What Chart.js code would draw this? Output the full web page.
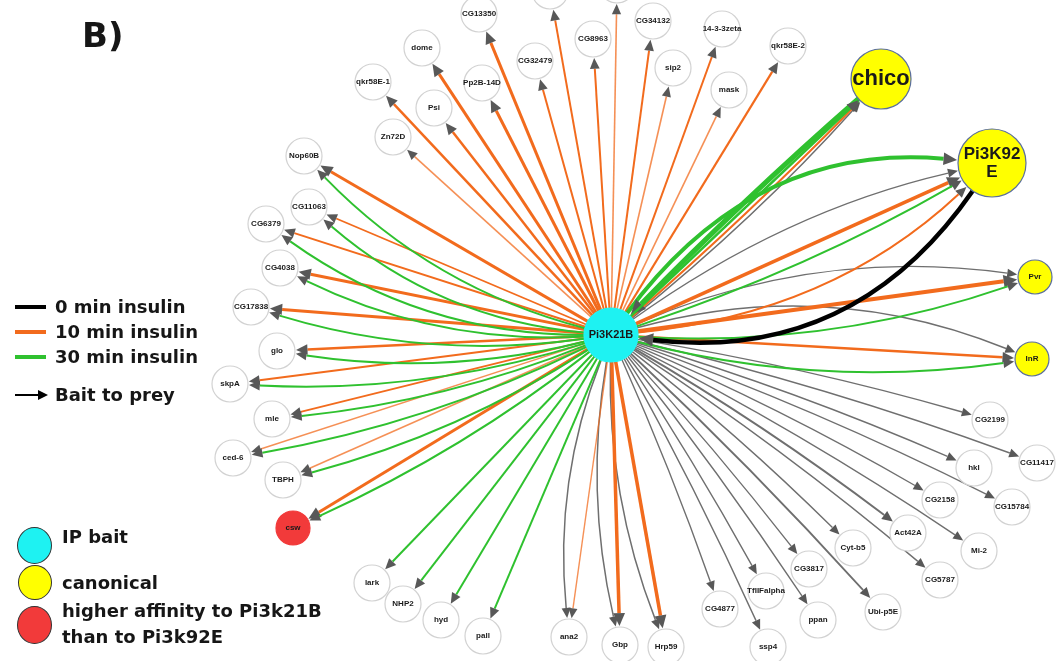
<!DOCTYPE html>
<html>
<head>
<meta charset="utf-8">
<script src="https://cdn.jsdelivr.net/npm/chart.js@4.4.0/dist/chart.umd.min.js"></script>
<style>
body { margin: 0; background: #fff; }
#wrap { position: relative; width: 1062px; height: 661px; }
#net { position: absolute; left: 0; top: 0; }
.lg { position: absolute; font-family: "DejaVu Sans", sans-serif; font-weight: bold; font-size: 18px; color: #161616; white-space: nowrap; line-height: 20px; }
.ln { position: absolute; left: 15px; width: 31px; height: 4px; }
.dot { position: absolute; border: 1.5px solid #333; border-radius: 50%; }
</style>
</head>
<body>
<div id="wrap">
  <canvas id="net" width="1062" height="661"></canvas>

  <div class="lg" style="left:82px;top:17px;font-size:34px;line-height:36px;">B)</div>

  <div class="ln" style="top:305px;background:#000;"></div>
  <div class="lg" style="left:55px;top:297px;">0 min insulin</div>
  <div class="ln" style="top:330px;background:#f26b1d;"></div>
  <div class="lg" style="left:55px;top:322px;">10 min insulin</div>
  <div class="ln" style="top:355px;background:#2fc12f;"></div>
  <div class="lg" style="left:55px;top:347px;">30 min insulin</div>
  <div class="ln" style="top:394px;height:2px;width:24px;background:#000;"></div>
  <div style="position:absolute;left:38px;top:390px;width:0;height:0;border-top:5px solid transparent;border-bottom:5px solid transparent;border-left:10px solid #000;"></div>
  <div class="lg" style="left:55px;top:385px;">Bait to prey</div>

  <div class="dot" style="left:17px;top:527px;width:33px;height:35px;background:#1ef2f2;"></div>
  <div class="lg" style="left:62px;top:527px;">IP bait</div>
  <div class="dot" style="left:18px;top:565px;width:32px;height:33px;background:#ffff00;"></div>
  <div class="lg" style="left:62px;top:573px;">canonical</div>
  <div class="dot" style="left:17px;top:606px;width:33px;height:36px;background:#f23a3a;"></div>
  <div class="lg" style="left:62px;top:601px;">higher affinity to Pi3k21B</div>
  <div class="lg" style="left:62px;top:627px;">than to Pi3k92E</div>
</div>

<script>
// network layout (x to the right, y downward)
var nodeNames = ['Pi3K21B', 'chico', 'Pi3K92E', 'Pvr', 'InR', 'csw',
    '_top1', '_top2', 'CG13350', 'CG34132', '14-3-3zeta', 'qkr58E-2', 'dome', 'CG8963',
    'CG32479', 'sip2', 'mask', 'qkr58E-1', 'Pp2B-14D', 'Psi', 'Zn72D',
    'Nop60B', 'CG11063', 'CG6379', 'CG4038', 'CG17838', 'glo', 'skpA', 'mle', 'ced-6', 'TBPH',
    'lark', 'NHP2', 'hyd', 'pall', 'ana2', 'Gbp', 'Hrp59',
    'CG4877', 'ssp4', 'TfIIFalpha', 'ppan', 'CG3817', 'Ubi-p5E', 'Cyt-b5', 'Act42A',
    'CG5787', 'Mi-2', 'CG2158', 'CG15784', 'hkl', 'CG11417', 'CG2199'];
var nodeX = [611, 881, 992, 1035, 1032, 293,
    550, 617, 479, 653, 722, 788, 422, 593,
    535, 673, 729, 373, 482, 434, 393,
    304, 309, 266, 280, 251, 277, 230, 272, 233, 283,
    372, 403, 441, 483, 569, 620, 666,
    720, 768, 766, 818, 809, 883, 853, 908,
    940, 979, 940, 1012, 974, 1037, 990];
var nodeY = [335, 79, 163, 277, 359, 528,
    -9, -15, 14, 21, 29, 46, 48, 39,
    61, 68, 90, 82, 83, 108, 137,
    156, 207, 224, 268, 307, 351, 384, 419, 458, 480,
    583, 604, 620, 636, 637, 645, 647,
    609, 647, 591, 620, 569, 612, 548, 533,
    580, 551, 500, 507, 468, 463, 420];
var nodeKind = ['bait', 'canonical', 'canonical', 'canonical', 'canonical', 'affinity'];
while (nodeKind.length < nodeNames.length) nodeKind.push('prey');

// edges: [from, to, minutes of insulin (-1 = grey), weight, bend]
var B = 'Pi3K21B';
var edges = [
    [B, '_top1', 10, 2, 0], [B, '_top2', 10, 1.6, 0], [B, 'CG13350', 10, 3, 0],
    [B, 'CG34132', 10, 2, 0], [B, '14-3-3zeta', 10, 2, 0], [B, 'qkr58E-2', 10, 2.2, 0],
    [B, 'dome', 10, 3, 0], [B, 'CG8963', 10, 2, 0], [B, 'CG32479', 10, 2, 0],
    [B, 'sip2', 10, 1.6, 0], [B, 'mask', 10, 1.6, 0], [B, 'qkr58E-1', 10, 2.5, 0],
    [B, 'Pp2B-14D', 10, 3, 0], [B, 'Psi', 10, 2.5, 0], [B, 'Zn72D', 10, 1.6, 0],

    [B, 'Nop60B', 10, 3, 0], [B, 'Nop60B', 30, 2, 0.14],
    [B, 'CG11063', 10, 1.8, 0], [B, 'CG11063', 30, 2, 0.16],
    [B, 'CG6379', 10, 2, 0], [B, 'CG6379', 30, 2, 0.16],
    [B, 'CG4038', 10, 3, 0], [B, 'CG4038', 30, 2, 0.13],
    [B, 'CG17838', 10, 3, 0], [B, 'CG17838', 30, 2, 0.11],
    [B, 'glo', 10, 2.5, 0], [B, 'glo', 30, 2, 0.1],
    [B, 'skpA', 10, 2, 0], [B, 'skpA', 30, 2, 0.09],
    [B, 'mle', 10, 1.8, 0], [B, 'mle', 30, 2, 0.07],
    [B, 'ced-6', 10, 1.5, 0], [B, 'ced-6', 30, 2, 0.07],
    [B, 'TBPH', 10, 1.6, 0], [B, 'TBPH', 30, 2, 0.08],
    [B, 'csw', 10, 3, 0], [B, 'csw', 30, 2, 0.06],
    [B, 'lark', 30, 2, 0], [B, 'NHP2', 30, 2, 0], [B, 'hyd', 30, 2, 0], [B, 'pall', 30, 2, 0],

    [B, 'ana2', -1, 1.5, -0.12], [B, 'ana2', 10, 1.4, 0],
    [B, 'Gbp', -1, 1.5, -0.1], [B, 'Gbp', 10, 3.5, 0],
    [B, 'Hrp59', -1, 1.5, -0.1], [B, 'Hrp59', 10, 3.5, 0],
    [B, 'CG4877', -1, 1.4, 0.02], [B, 'ssp4', -1, 1.4, 0.02], [B, 'TfIIFalpha', -1, 1.4, 0.02],
    [B, 'ppan', -1, 1.4, 0.02], [B, 'CG3817', -1, 1.4, 0.02], [B, 'Ubi-p5E', -1, 1.8, 0.02],
    [B, 'Cyt-b5', -1, 1.4, 0.03], [B, 'Act42A', -1, 2, 0.03], [B, 'CG5787', -1, 1.4, 0.03],
    [B, 'Mi-2', -1, 1.4, 0.03], [B, 'CG2158', -1, 1.4, 0.03], [B, 'CG15784', -1, 1.4, 0.03],
    [B, 'hkl', -1, 1.4, 0.03], [B, 'CG11417', -1, 1.4, 0.03], [B, 'CG2199', -1, 1.4, 0.03],

    [B, 'InR', -1, 1.4, 0.17], [B, 'InR', 10, 2.5, 0], [B, 'InR', 30, 2, -0.1],
    [B, 'Pvr', -1, 1.4, 0.14], [B, 'Pvr', 10, 4, 0], [B, 'Pvr', 30, 2, -0.1],

    [B, 'Pi3K92E', 30, 4, 0.28], [B, 'Pi3K92E', -1, 1.4, 0.1], [B, 'Pi3K92E', 10, 3.5, 0],
    [B, 'Pi3K92E', 30, 2, -0.05], [B, 'Pi3K92E', 10, 2, -0.17], ['Pi3K92E', B, 0, 4.5, 0.3],

    ['chico', B, 30, 5, -0.02], [B, 'chico', 30, 2.5, 0], [B, 'chico', 10, 2, -0.02], [B, 'chico', -1, 1.5, -0.04]
];

var timeColor = { '-1': '#6f6f6f', '0': '#000000', '10': '#f26b1d', '30': '#2fc12f' };
var drawOrder = { '-1': 0, '10': 1, '30': 2, '0': 3 };
var kindFill = { bait: '#1ef2f2', canonical: '#ffff00', affinity: '#f23a3a', prey: '#ffffff' };
var kindBorder = { bait: '#1ef2f2', canonical: '#5b6f9c', affinity: '#f23a3a', prey: '#d2d2d2' };
var bigNodes = { 'Pi3K21B': 27, 'chico': 30, 'Pi3K92E': 34, 'Pvr': 17, 'InR': 17, 'csw': 17 };

function nodeRadius(i) {
    return bigNodes[nodeNames[i]] || 18;
}

var edgePlugin = {
    id: 'edges',
    beforeDatasetsDraw: function (chart) {
        var ctx = chart.ctx, sx = chart.scales.x, sy = chart.scales.y;
        function pos(name) {
            var i = nodeNames.indexOf(name);
            return { x: sx.getPixelForValue(nodeX[i]), y: sy.getPixelForValue(nodeY[i]), r: nodeRadius(i) };
        }
        var list = edges.slice().sort(function (a, b) { return drawOrder[a[2]] - drawOrder[b[2]]; });
        ctx.save();
        list.forEach(function (e) {
            var s = pos(e[0]), t = pos(e[1]);
            var dx = t.x - s.x, dy = t.y - s.y;
            // control point, bent to the left of travel direction
            var cx = (s.x + t.x) / 2 + e[4] * dy, cy = (s.y + t.y) / 2 - e[4] * dx;
            var a1 = Math.atan2(cy - s.y, cx - s.x), a2 = Math.atan2(cy - t.y, cx - t.x);
            var x1 = s.x + s.r * Math.cos(a1), y1 = s.y + s.r * Math.sin(a1);
            var head = 8 + e[3] * 1.4;
            var x2 = t.x + (t.r + 1) * Math.cos(a2), y2 = t.y + (t.r + 1) * Math.sin(a2);
            var xb = x2 + head * Math.cos(a2), yb = y2 + head * Math.sin(a2);
            ctx.strokeStyle = timeColor[e[2]];
            ctx.lineWidth = e[3];
            ctx.globalAlpha = e[3] < 1.7 && e[2] == 10 ? 0.75 : 1;
            ctx.beginPath();
            ctx.moveTo(x1, y1);
            ctx.quadraticCurveTo(cx, cy, xb, yb);
            ctx.stroke();
            ctx.globalAlpha = 1;
            // arrow head
            var w = 3.5 + e[3] * 0.7;
            ctx.fillStyle = '#585858';
            ctx.beginPath();
            ctx.moveTo(x2, y2);
            ctx.lineTo(xb - w * Math.sin(a2), yb + w * Math.cos(a2));
            ctx.lineTo(xb + w * Math.sin(a2), yb - w * Math.cos(a2));
            ctx.closePath();
            ctx.fill();
        });
        ctx.restore();
    },
    afterDatasetsDraw: function (chart) {
        var ctx = chart.ctx, sx = chart.scales.x, sy = chart.scales.y;
        ctx.save();
        ctx.textAlign = 'center';
        ctx.textBaseline = 'middle';
        ctx.fillStyle = '#1a1a1a';
        nodeNames.forEach(function (name, i) {
            if (name.charAt(0) == '_') return;
            var px = sx.getPixelForValue(nodeX[i]), py = sy.getPixelForValue(nodeY[i]);
            if (name == 'chico') {
                ctx.font = 'bold 22px "Liberation Sans", Arial';
                ctx.fillText(name, px, py);
            } else if (name == 'Pi3K92E') {
                ctx.font = 'bold 17px "Liberation Sans", Arial';
                ctx.fillText('Pi3K92', px, py - 9);
                ctx.fillText('E', px, py + 9);
            } else if (name == 'Pi3K21B') {
                ctx.font = 'bold 11px "Liberation Sans", Arial';
                ctx.fillText(name, px, py);
            } else {
                ctx.font = 'bold 8px "Liberation Sans", Arial';
                ctx.fillText(name, px, py);
            }
        });
        ctx.restore();
    }
};

var points = nodeNames.map(function (n, i) { return { x: nodeX[i], y: nodeY[i] }; });

new Chart(document.getElementById('net'), {
    type: 'scatter',
    data: {
        datasets: [{
            data: points,
            pointRadius: nodeNames.map(function (n, i) { return nodeRadius(i); }),
            pointHoverRadius: nodeNames.map(function (n, i) { return nodeRadius(i); }),
            pointBackgroundColor: nodeKind.map(function (k) { return kindFill[k]; }),
            pointBorderColor: nodeKind.map(function (k) { return kindBorder[k]; }),
            pointBorderWidth: 1.2,
            clip: false
        }]
    },
    options: {
        responsive: false,
        animation: false,
        layout: { padding: 0, autoPadding: false },
        plugins: { legend: { display: false }, tooltip: { enabled: false } },
        scales: {
            x: { type: 'linear', display: false, min: 0, max: 1062 },
            y: { type: 'linear', display: false, min: 0, max: 661, reverse: true }
        }
    },
    plugins: [edgePlugin]
});
</script>
</body>
</html>
